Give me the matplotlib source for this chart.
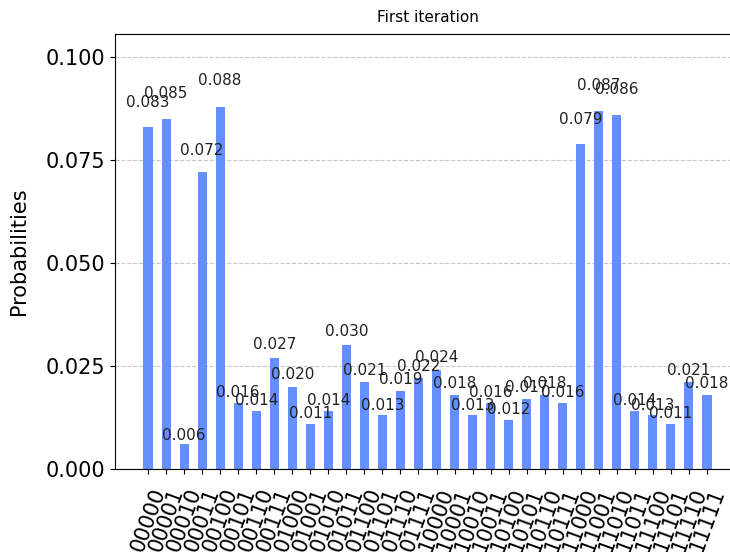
import numpy as np
import matplotlib
matplotlib.use('Agg')
import matplotlib.pyplot as plt

# bitstrings and measured probabilities
states = [format(i, '05b') for i in range(32)]
probs = [0.083, 0.085, 0.006, 0.072, 0.088, 0.016, 0.014, 0.027,
         0.020, 0.011, 0.014, 0.030, 0.021, 0.013, 0.019, 0.022,
         0.024, 0.018, 0.013, 0.016, 0.012, 0.017, 0.018, 0.016,
         0.079, 0.087, 0.086, 0.014, 0.013, 0.011, 0.021, 0.018]
title = 'First iteration'

fig = plt.figure(figsize=(7.3, 5.52), dpi=100)
# axes runs a little past the right edge, like the cropped original
ax = fig.add_axes([115 / 730, 1 - 469 / 552, 625 / 730, 435 / 552])

ind = np.arange(len(states))
bars = ax.bar(ind, probs, width=0.5, color='#648fff', zorder=2)

for rect, p in zip(bars, probs):
    h = rect.get_height()
    ax.text(rect.get_x() + rect.get_width() / 2., 1.05 * h, '%.3f' % p,
            ha='center', va='bottom', fontsize=11, color='#222222', zorder=10)

ax.set_xticks(ind)
ax.set_xticklabels(states, rotation=70, fontsize=15)
ax.tick_params(axis='x', pad=8)
ax.set_xlim(-1.83, len(states) - 1 + 1.83)
ax.set_ylim(0, max(probs) * 1.2)
ax.set_yticks([0.0, 0.025, 0.05, 0.075, 0.1])
ax.set_yticklabels(['0.000', '0.025', '0.050', '0.075', '0.100'], fontsize=15)
ax.set_ylabel('Probabilities', fontsize=15, labelpad=12)
ax.set_title(title, fontsize=11, pad=9)
ax.yaxis.grid(True, linestyle='--', color='#c8c8c8', zorder=0)
ax.set_axisbelow(True)

fig.savefig('out.png', dpi=100)
